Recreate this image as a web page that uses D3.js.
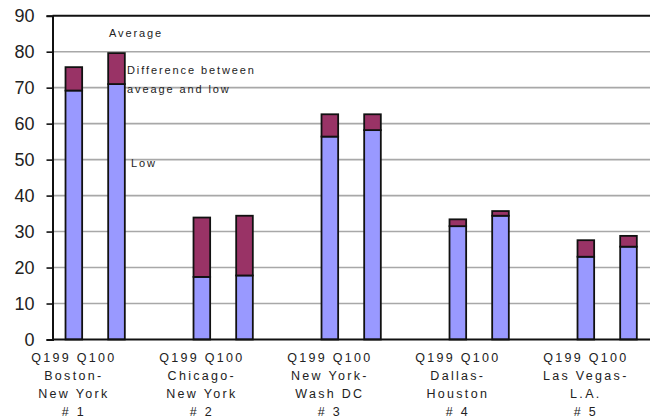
<!DOCTYPE html>
<html><head><meta charset="utf-8">
<script src="https://cdn.jsdelivr.net/npm/d3@7"></script>
<style>
body{margin:0;background:#fff;}
svg{display:block;font-family:"Liberation Sans",Arial,sans-serif;}
</style></head>
<body><svg id="c" width="650" height="417"></svg>
<script>
const groups = ["#1","#2","#3","#4","#5"];
const routeLabels = [["Boston-","New York","# 1"],["Chicago-","New York","# 2"],["New York-","Wash DC","# 3"],["Dallas-","Houston","# 4"],["Las Vegas-","L.A.","# 5"]];
const periods = ["Q199","Q100"];
const lowQ199 = [69.2, 17.4, 56.4, 31.5, 23.0];
const lowQ100 = [71.0, 17.8, 58.2, 34.4, 25.8];
const avgQ199 = [75.7, 33.9, 62.6, 33.4, 27.6];
const avgQ100 = [79.6, 34.4, 62.6, 35.7, 28.8];
const yTicks = [0,10,20,30,40,50,60,70,80,90];

const svg = d3.select("#c");
const mLeft = 52.5, mTop = 15.7, mBottom = 339.5, mRight = 692.5;
const y = d3.scaleLinear().domain([0,90]).range([mBottom, mTop]);
// 3 slots per route: Q199, Q100, gap
const slots = [];
groups.forEach(g => { slots.push(g+"|Q199", g+"|Q100", g+"|gap"); });
const x = d3.scaleBand().domain(slots).range([mLeft, mRight]).padding(0);
const bw = x.bandwidth()*0.39;

// gridlines
svg.append("g").selectAll("line").data(yTicks.filter(t=>t>0 && t<90)).join("line")
  .attr("x1", mLeft).attr("x2", 650).attr("y1", d=>y(d)).attr("y2", d=>y(d))
  .attr("stroke", "#a8a8a8").attr("stroke-width", 1.6);
// top border line
svg.append("line").attr("x1", mLeft).attr("x2", 650).attr("y1", y(90)).attr("y2", y(90))
  .attr("stroke", "#111").attr("stroke-width", 2);

// bars
const rows = [];
groups.forEach((g,i) => {
  rows.push({slot:g+"|Q199", low:lowQ199[i], avg:avgQ199[i]});
  rows.push({slot:g+"|Q100", low:lowQ100[i], avg:avgQ100[i]});
});
const bars = svg.append("g");
rows.forEach(r => {
  const cx = x(r.slot) + x.bandwidth()/2;
  bars.append("rect").attr("x", cx-bw/2).attr("width", bw)
    .attr("y", y(r.low)).attr("height", y(0)-y(r.low))
    .attr("fill", "#9999FF").attr("stroke", "#111").attr("stroke-width", 1.8);
  bars.append("rect").attr("x", cx-bw/2).attr("width", bw)
    .attr("y", y(r.avg)).attr("height", y(r.low)-y(r.avg))
    .attr("fill", "#993366").attr("stroke", "#111").attr("stroke-width", 1.8);
});

// y axis
const yAxis = d3.axisLeft(y).tickValues(yTicks).tickSize(6).tickPadding(12);
const ya = svg.append("g").attr("transform", `translate(${mLeft},0)`).call(yAxis);
ya.select(".domain").attr("stroke", "#111").attr("stroke-width", 2);
ya.selectAll(".tick line").attr("stroke", "#111").attr("stroke-width", 1.6);
ya.selectAll(".tick text").attr("font-size", 18).attr("fill", "#222")
  .attr("font-family", "'Liberation Sans',Arial,sans-serif");

// x axis baseline
svg.append("line").attr("x1", mLeft).attr("x2", 650).attr("y1", y(0)).attr("y2", y(0))
  .attr("stroke", "#111").attr("stroke-width", 2);

// category labels
groups.forEach((g,i) => {
  const cx = x(g+"|Q199") + x.bandwidth()/2;
  const lines = [periods.join(" ")].concat(routeLabels[i]);
  lines.forEach((t,j) => {
    svg.append("text").attr("x", cx).attr("y", 361.5 + j*18.3)
      .attr("text-anchor", "middle").attr("font-size", 12.5).attr("letter-spacing", 2.3)
      .attr("fill", "#222").text(t);
  });
});

// annotations
const ann = [["Average",109,37],["Difference between",127,74],["aveage and low",127,93],["Low",131,167]];
ann.forEach(a => {
  svg.append("text").attr("x", a[1]).attr("y", a[2]).attr("font-size", 11)
    .attr("letter-spacing", 1.9).attr("fill", "#222").text(a[0]);
});
</script></body></html>
